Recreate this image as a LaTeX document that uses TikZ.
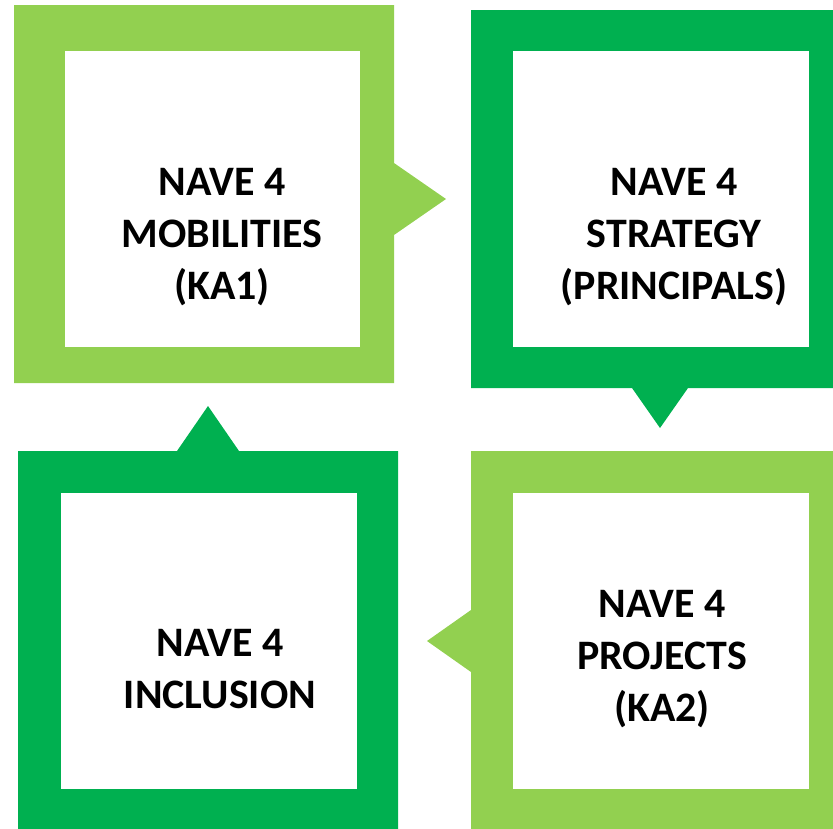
\documentclass[tikz,border=0pt]{standalone}
\usepackage{fontspec}
\setmainfont{Carlito}
\definecolor{lgreen}{HTML}{92D050}
\definecolor{dgreen}{HTML}{00B050}
\tikzset{
  label/.style={font=\fontsize{35.8}{44.4}\selectfont\bfseries, align=center, inner sep=0pt},
  hole/.style={fill=white}
}
\begin{document}
\begin{tikzpicture}[x=0.03cm,y=-0.03cm]
\clip (0,0) rectangle (833,828);

% frames with their pointers
\fill[lgreen] (14,5) -- (394,5) -- (394,163) -- (446,199) -- (394,235) -- (394,383) -- (14,383) -- cycle;
\fill[dgreen] (471,10) -- (851,10) -- (851,388) -- (688,388) -- (660,428) -- (632,388) -- (471,388) -- cycle;
\fill[lgreen] (471,451) -- (851,451) -- (851,832) -- (471,832) -- (471,672) -- (427,641) -- (471,610) -- cycle;
\fill[dgreen] (18,451) -- (177,451) -- (208,406) -- (239,451) -- (398,451) -- (398,832) -- (18,832) -- cycle;

% white insides
\fill[hole] (65,51) rectangle (360,347);
\fill[hole] (513,51) rectangle (809,347);
\fill[hole] (513,493) rectangle (809,789);
\fill[hole] (61,493) rectangle (357,789);

\node[label] (mob) at (222,237) {NAVE 4\\MOBILITIES\\(KA1)};
\node[label] (str) at (674,237) {NAVE 4\\STRATEGY\\(PRINCIPALS)};
\node[label] (pro) at (662,659) {NAVE 4\\PROJECTS\\(KA2)};
\node[label] (inc) at (220,669) {NAVE 4\\INCLUSION};

\end{tikzpicture}
\end{document}
